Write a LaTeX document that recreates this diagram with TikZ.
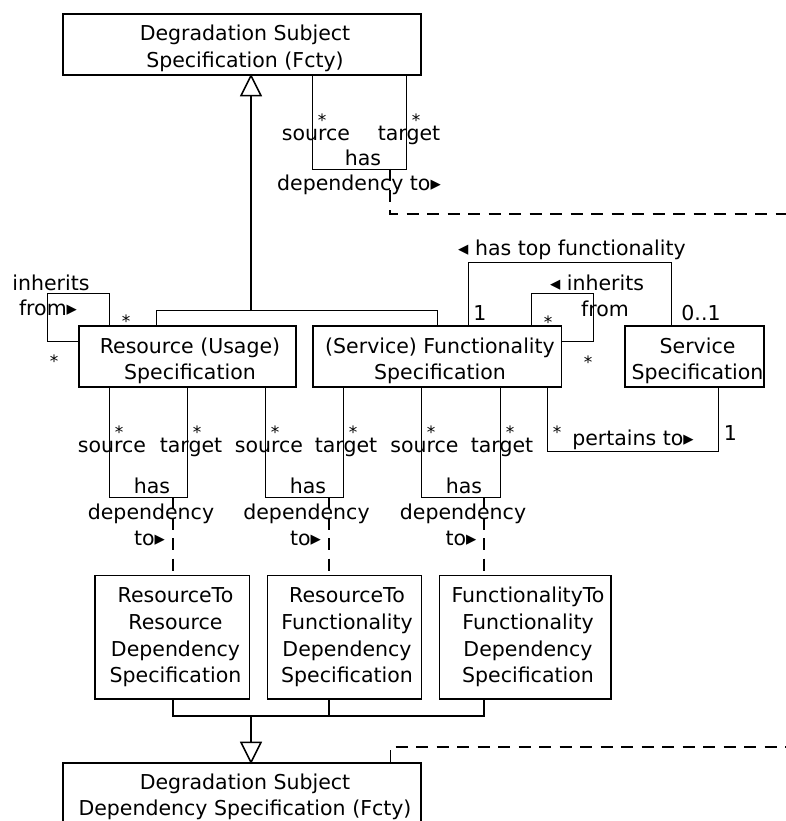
\documentclass[tikz,border=0pt]{standalone}
\usepackage{fontspec}
\setmainfont{DejaVu Sans}
\usetikzlibrary{calc}
\newcommand\umlfont{\fontsize{20.5}{26.6}\selectfont}
\newcommand\multfont{\fontsize{17}{18}\selectfont}

\begin{document}
\begin{tikzpicture}[x=1pt, y=-1pt,
  classbox/.style={draw, line width=1.3pt, inner sep=0pt},
  boxtext/.style={font=\umlfont, align=center, inner sep=0pt, anchor=north},
  lbl/.style={font=\umlfont, inner sep=0pt, anchor=base},
  mult/.style={font=\multfont, inner sep=0pt, anchor=base},
  assoc/.style={line width=1.2pt},
  trunk/.style={line width=2pt},
  opentri/.style={line width=1.5pt, fill=white, line join=miter},
  linkdash/.style={line width=1.2pt, dash pattern=on 12pt off 8.5pt},
]
\useasboundingbox (0,0) rectangle (786,821);

% ---------- classes ----------
\node[classbox, minimum width=358, minimum height=61] (top) at (242,44.5) {};
\node[classbox, minimum width=217, minimum height=61] (res) at (187.5,356.5) {};
\node[classbox, minimum width=248.5, minimum height=61] (fun) at (437.25,356.5) {};
\node[classbox, minimum width=139, minimum height=61] (svc) at (694.5,356.5) {};
\node[classbox, minimum width=154.5, minimum height=123.5] (rr) at (172.25,637.25) {};
\node[classbox, minimum width=154, minimum height=123.5] (rf) at (344.5,637.25) {};
\node[classbox, minimum width=171.5, minimum height=123.5] (ff) at (525.25,637.25) {};
\node[classbox, minimum width=358, minimum height=80] (dep) at (242,803) {};

\node[boxtext] (topT) at (245,22.1) {\strut Degradation Subject\\\strut Specification (Fcty)};
\node[boxtext] (resT) at (190,334.4) {\strut Resource (Usage)\\\strut Specification};
\node[boxtext] (funT) at (440,334.4) {\strut (Service) Functionality\\\strut Specification};
\node[boxtext] (svcT) at (697.5,334.4) {\strut Service\\\strut Specification};
\node[boxtext] (rrT) at (175.5,584.1) {\strut ResourceTo\\\strut Resource\\\strut Dependency\\\strut Specification};
\node[boxtext] (rfT) at (347,584.1) {\strut ResourceTo\\\strut Functionality\\\strut Dependency\\\strut Specification};
\node[boxtext] (ffT) at (528,584.1) {\strut FunctionalityTo\\\strut Functionality\\\strut Dependency\\\strut Specification};
\node[boxtext] (depT) at (245,770.4) {\strut Degradation Subject\\\strut Dependency Specification (Fcty)};

% ---------- junction and off-page points ----------
\coordinate (gj1) at (251,311);
\coordinate (gj2) at (251,716);
\coordinate (hd0) at (390,169);
\coordinate (hd1) at (173,497);
\coordinate (hd2) at (329,497);
\coordinate (hd3) at (484,497);
\coordinate (offA) at (800,214);
\coordinate (offB) at (800,747);

% ---------- generalization to the top class ----------
\draw[assoc] ($(res.north west)+(78,0)$) -- ++(0,-15) -| ($(fun.north west)+(125,0)$);
\draw[trunk] (gj1) -- ($(top.south)+(9,20)$);
\draw[opentri] ($(top.south)+(9,0)$) -- ++(-10,20) -- ++(20,0) -- cycle;

% ---------- self association on the top class ----------
\draw[assoc] ($(top.south west)+(250,0)$) -- ++(0,94) -| ($(top.south west)+(344,0)$);
\draw[linkdash] (hd0) |- (offA);
\node[mult] (s0a) at (322,126.5) {*};
\node[mult] (s0b) at (416,126.5) {*};
\node[lbl] (src0) at (316,140.7) {source};
\node[lbl] (tgt0) at (409,140.7) {target};
\node[lbl] (has0) at (363,165.7) {has};
\node[lbl] (dep0) at (359,190.7) {dependency to▸};

% ---------- inherits from (resource) ----------
\draw[assoc] ($(res.north west)+(31,0)$) -- ++(0,-32) -- ++(-62,0) |- ($(res.north west)+(0,16)$);
\node[lbl] (inhR1) at (51,290) {inherits};
\node[lbl] (inhR2) at (48,315) {from▸};
\node[mult] (sRa) at (126,327.5) {*};
\node[mult] (sRb) at (54,367.5) {*};

% ---------- inherits from (functionality) ----------
\draw[assoc] ($(fun.north west)+(219,0)$) -- ++(0,-32) -- ++(62,0) |- ($(fun.north east)+(0,16)$);
\node[lbl] (inhF1) at (597,290.7) {◂ inherits};
\node[lbl] (inhF2) at (605,316.7) {from};
\node[mult] (sFa) at (548,328.5) {*};
\node[mult] (sFb) at (588,368.5) {*};

% ---------- has top functionality ----------
\draw[assoc] ($(fun.north west)+(156,0)$) -- ++(0,-63) -| ($(svc.north west)+(47,0)$);
\node[lbl] (topf) at (572,255.7) {◂ has top functionality};
\node[lbl] (one1) at (480,320.7) {1};
\node[lbl] (zo1) at (701,320) {0..1};

% ---------- pertains to ----------
\draw[assoc] ($(fun.south west)+(235,0)$) -- ++(0,64) -| ($(svc.south west)+(94,0)$);
\node[lbl] (pert) at (633,445.7) {pertains to▸};
\node[mult] (sP) at (557,438.5) {*};
\node[lbl] (one2) at (730.5,440) {1};

% ---------- dependency associations ----------
\draw[assoc] ($(res.south west)+(31,0)$) -- ++(0,110) -| ($(res.south west)+(109,0)$);
\draw[assoc] ($(res.south west)+(187,0)$) -- ++(0,110) -| ($(fun.south west)+(31,0)$);
\draw[assoc] ($(fun.south west)+(109,0)$) -- ++(0,110) -| ($(fun.south west)+(188,0)$);
\draw[linkdash] (hd1) -- (hd1 |- rr.north);
\draw[linkdash] (hd2) -- (hd2 |- rf.north);
\draw[linkdash] (hd3) -- (hd3 |- ff.north);

\node[mult] (s1a) at (119,438.5) {*};
\node[mult] (s1b) at (197,438.5) {*};
\node[lbl] (src1) at (112,452) {source};
\node[lbl] (tgt1) at (191,452) {target};
\node[lbl] (has1) at (152,493.3) {has};
\node[lbl] (dpc1) at (151,519.3) {dependency};
\node[lbl] (to1) at (149.5,545.7) {to▸};

\node[mult] (s2a) at (275,438.5) {*};
\node[mult] (s2b) at (353,438.5) {*};
\node[lbl] (src2) at (269,452) {source};
\node[lbl] (tgt2) at (346,452) {target};
\node[lbl] (has2) at (308,493.3) {has};
\node[lbl] (dpc2) at (306.5,519.3) {dependency};
\node[lbl] (to2) at (305.5,545.7) {to▸};

\node[mult] (s3a) at (431,438.5) {*};
\node[mult] (s3b) at (510,438.5) {*};
\node[lbl] (src3) at (424.5,452) {source};
\node[lbl] (tgt3) at (502,452) {target};
\node[lbl] (has3) at (464,493.3) {has};
\node[lbl] (dpc3) at (463,519.3) {dependency};
\node[lbl] (to3) at (461,545.7) {to▸};

% ---------- generalization to the dependency class ----------
\draw[assoc] (hd1 |- rr.south) -- (hd1 |- gj2) -- (hd3 |- gj2) -- (hd3 |- ff.south);
\draw[assoc] (hd2 |- rf.south) -- (hd2 |- gj2);
\draw[trunk] (gj2) -- ($(dep.north)+(9,-20)$);
\draw[opentri] ($(dep.north)+(9,0)$) -- ++(-10,-20) -- ++(20,0) -- cycle;
\draw[linkdash] ($(dep.north west)+(328,0)$) |- (offB);
\end{tikzpicture}
\end{document}
